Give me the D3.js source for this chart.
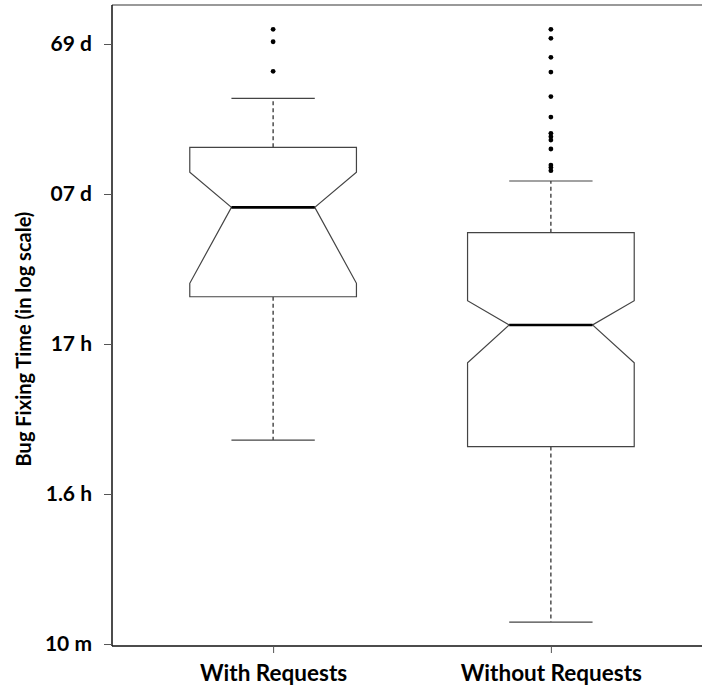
<!DOCTYPE html>
<html>
<head>
<meta charset="utf-8">
<script src="https://cdn.jsdelivr.net/npm/d3@7"></script>
<style>
  html, body { margin: 0; padding: 0; background: #fff; }
  svg { display: block; }
</style>
</head>
<body>
<svg id="chart" width="702" height="688"></svg>
<script>
// ---- Data (bug fixing time in minutes) ----
const categories = ["With Requests", "Without Requests"];
const whiskerLow  = [229, 14];
const q1          = [2066, 207];
const notchLow    = [2540, 750];
const median      = [8150, 1340];
const notchHigh   = [13960, 1945];
const q3          = [20480, 5520];
const whiskerHigh = [43450, 12210];
const outliersWith    = [125300, 103500, 65800];
const outliersWithout = [125300, 109100, 81500, 65000, 44600, 32600, 25400, 24100, 22900, 19950, 15600, 15000, 14300];
const outliers = [outliersWith, outliersWithout];
const tickValues = [10, 100, 1000, 10000, 100000];
const tickLabels = ["10 m", "1.6 h", "17 h", "07 d", "69 d"];
const yTitle = "Bug Fixing Time (in log scale)";

(function () {
// ---- Layout ----
const svg = d3.select("#chart");
const mLeft = 112, mTop = 5, mBottom = 646, mRight = 712;
const font = "Lato, 'Open Sans', sans-serif";

const y = d3.scaleLog().domain([9.7, 182000]).range([mBottom, mTop]);
const x = d3.scalePoint().domain(categories).range([mLeft, mRight]).padding(0.58);
const step = x.step();
const halfBox = 0.3 * step;
const halfNotch = halfBox / 2;

const boxStroke = "#444";

// frame: top line (grey), left axis, bottom axis
svg.append("line").attr("x1", mLeft).attr("x2", 702).attr("y1", mTop).attr("y2", mTop)
  .attr("stroke", "#777").attr("stroke-width", 1.5);
svg.append("line").attr("x1", mLeft).attr("x2", mLeft).attr("y1", mTop).attr("y2", mBottom)
  .attr("stroke", "#111").attr("stroke-width", 1.5);
svg.append("line").attr("x1", mLeft).attr("x2", 702).attr("y1", mBottom).attr("y2", mBottom)
  .attr("stroke", "#111").attr("stroke-width", 1.5);

// y axis ticks
const yAxis = d3.axisLeft(y).tickValues(tickValues)
  .tickFormat((d, i) => tickLabels[i]).tickSize(8).tickPadding(12);
const gy = svg.append("g").attr("transform", `translate(${mLeft},0)`).call(yAxis);
gy.select(".domain").remove();
gy.selectAll(".tick line").attr("stroke", "#555").attr("stroke-width", 1);
gy.selectAll(".tick text")
  .attr("font-family", font)
  .attr("font-weight", "bold").attr("font-size", 21).attr("fill", "#000");

// x axis ticks
const xAxis = d3.axisBottom(x).tickSize(7).tickPadding(12);
const gx = svg.append("g").attr("transform", `translate(0,${mBottom})`).call(xAxis);
gx.select(".domain").remove();
gx.selectAll(".tick line").attr("stroke", "#555").attr("stroke-width", 1);
gx.selectAll(".tick text")
  .attr("font-family", font)
  .attr("font-weight", "bold").attr("font-size", 22.5).attr("fill", "#000");

// y title
svg.append("text")
  .attr("transform", "translate(31,339) rotate(-90)")
  .attr("text-anchor", "middle")
  .attr("font-family", font)
  .attr("font-weight", "bold").attr("font-size", 20).attr("fill", "#000")
  .text(yTitle);

// boxes
categories.forEach((c, i) => {
  const cx = x(c);
  const g = svg.append("g");
  g.append("line").attr("x1", cx).attr("x2", cx).attr("y1", y(q3[i])).attr("y2", y(whiskerHigh[i]))
    .attr("stroke", "#222").attr("stroke-width", 1.2).attr("stroke-dasharray", "4,3");
  g.append("line").attr("x1", cx).attr("x2", cx).attr("y1", y(q1[i])).attr("y2", y(whiskerLow[i]))
    .attr("stroke", "#222").attr("stroke-width", 1.2).attr("stroke-dasharray", "4,3");
  [whiskerHigh[i], whiskerLow[i]].forEach(v => {
    g.append("line").attr("x1", cx - halfNotch).attr("x2", cx + halfNotch)
      .attr("y1", y(v)).attr("y2", y(v)).attr("stroke", boxStroke).attr("stroke-width", 1.2);
  });
  const pts = [
    [cx - halfBox, y(q3[i])],
    [cx + halfBox, y(q3[i])],
    [cx + halfBox, y(notchHigh[i])],
    [cx + halfNotch, y(median[i])],
    [cx + halfBox, y(notchLow[i])],
    [cx + halfBox, y(q1[i])],
    [cx - halfBox, y(q1[i])],
    [cx - halfBox, y(notchLow[i])],
    [cx - halfNotch, y(median[i])],
    [cx - halfBox, y(notchHigh[i])]
  ];
  g.append("path").attr("d", d3.line()(pts) + "Z")
    .attr("fill", "#fff").attr("stroke", boxStroke).attr("stroke-width", 1.2);
  g.append("line").attr("x1", cx - halfNotch).attr("x2", cx + halfNotch)
    .attr("y1", y(median[i])).attr("y2", y(median[i]))
    .attr("stroke", "#000").attr("stroke-width", 2.6);
  g.selectAll("circle.out").data(outliers[i]).join("circle")
    .attr("class", "out").attr("cx", cx).attr("cy", d => y(d)).attr("r", 2.4).attr("fill", "#000");
});
})();
</script>
</body>
</html>
